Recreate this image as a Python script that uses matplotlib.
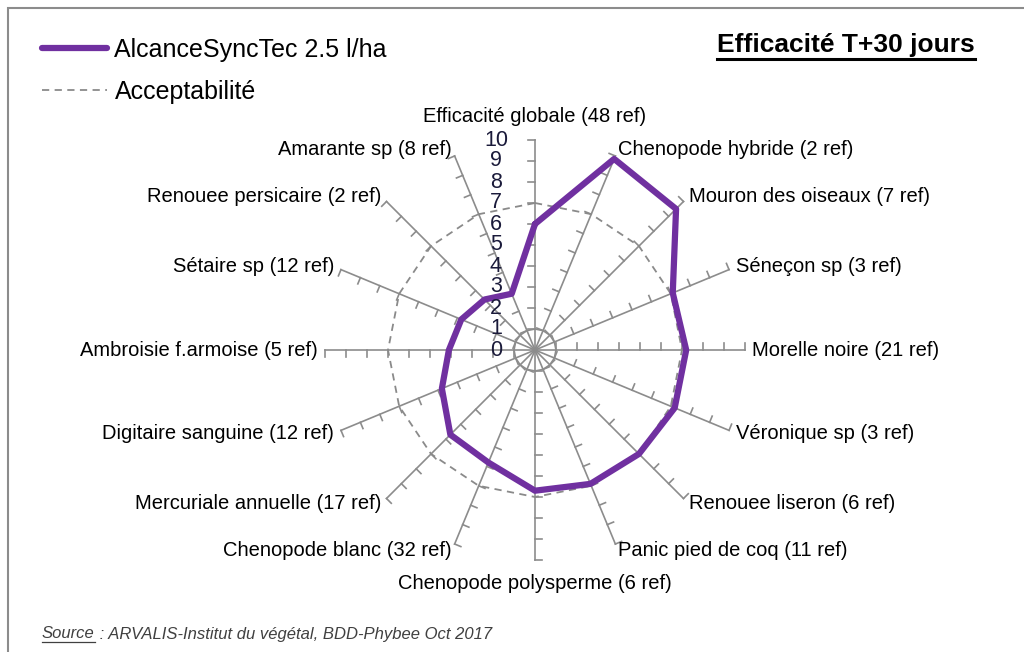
import numpy as np
import matplotlib.pyplot as plt
from matplotlib.lines import Line2D
from matplotlib.patches import Rectangle

plt.rcParams['font.family'] = ['Liberation Sans', 'DejaVu Sans']

# --- data ---
categories = ['Efficacité globale (48 ref)', 'Chenopode hybride (2 ref)',
              'Mouron des oiseaux (7 ref)', 'Séneçon sp (3 ref)',
              'Morelle noire (21 ref)', 'Véronique sp (3 ref)',
              'Renouee liseron (6 ref)', 'Panic pied de coq (11 ref)',
              'Chenopode polysperme (6 ref)', 'Chenopode blanc (32 ref)',
              'Mercuriale annuelle (17 ref)', 'Digitaire sanguine (12 ref)',
              'Ambroisie f.armoise (5 ref)', 'Sétaire sp (12 ref)',
              'Renouee persicaire (2 ref)', 'Amarante sp (8 ref)']
alcance = [6.0, 9.85, 9.5, 7.1, 7.2, 7.2, 7.0, 6.9, 6.7, 5.8, 5.7, 4.8, 4.1, 3.8, 3.4, 2.9]
acceptabilite = [7] * 16
inner_ring = [1] * 16
r_ticks = list(range(0, 11))

series_label = 'AlcanceSyncTec 2.5 l/ha'
accept_label = 'Acceptabilité'
title_txt = 'Efficacité T+30 jours'
source_a = 'Source'
source_b = ' : ARVALIS-Institut du végétal, BDD-Phybee Oct 2017'

purple = '#7030A0'
grey = '#8c8c8c'

W, H = 1024, 652
fig = plt.figure(figsize=(W / 100, H / 100), dpi=100)

# frame (only left/top visible in the crop)
fig.add_artist(Rectangle((8 / W, -0.1), 1.2, 1 - 8 / H + 0.1, transform=fig.transFigure,
                         fill=False, ec=grey, lw=1.5))

# polar axes, centre at (535, 350) px, radius 210 px for r = 10
cx, cy, R = 535, 350, 210
ax = fig.add_axes([(cx - R) / W, 1 - (cy + R) / H, 2 * R / W, 2 * R / H], projection='polar')
ax.set_theta_zero_location('N')
ax.set_theta_direction(-1)
ax.set_ylim(0, 10)
ax.axis('off')

n = len(categories)
theta = np.arange(n) * 2 * np.pi / n

# spokes with small ticks
tick_len = 0.32
for th in theta:
    ax.plot([th, th], [0, 10], color=grey, lw=1.2, clip_on=False, zorder=1)
    for k in r_ticks[1:]:
        ax.plot([th, th - np.arctan(tick_len / k)], [k, np.hypot(k, tick_len)],
                color=grey, lw=1.2, clip_on=False, zorder=1)

th_closed = np.append(theta, theta[0])
ax.plot(th_closed, inner_ring + inner_ring[:1], color=grey, lw=1.2, zorder=1)
acc_line, = ax.plot(th_closed, acceptabilite + acceptabilite[:1], color='#8a8a8a', lw=1.3,
                    linestyle=(0, (4, 3)), zorder=2)
alc_line, = ax.plot(th_closed, alcance + alcance[:1], color=purple, lw=4.5,
                    solid_joinstyle='round', solid_capstyle='round', zorder=3)

# radial value labels along the top spoke
for k in r_ticks:
    ax.annotate(str(k), xy=(0, k), xytext=(-39, 0), textcoords='offset pixels',
                ha='center', va='center', fontsize=15.5, color='#1a1a3a', annotation_clip=False)

# category labels
for th, lab in zip(theta, categories):
    s = np.sin(th)
    if abs(s) < 0.01:
        ax.text(th, 11.1, lab, ha='center', va='center', fontsize=14.5, clip_on=False)
    elif s > 0:
        ax.text(th, 10.35, lab, ha='left', va='center', fontsize=14.5, clip_on=False)
    else:
        ax.text(th, 10.35, lab, ha='right', va='center', fontsize=14.5, clip_on=False)

# legend
fig.legend([alc_line, acc_line], [series_label, accept_label], loc='upper left',
           bbox_to_anchor=(42 / W, 1 - 38 / H), frameon=False, fontsize=18,
           handlelength=2.6, handletextpad=0.3, labelspacing=0.72, borderpad=0,
           borderaxespad=0)

# title
t = fig.text(975 / W, 1 - 45 / H, title_txt, ha='right', va='center', fontsize=19,
             fontweight='bold')

# source
s1 = fig.text(42 / W, 1 - 634 / H, source_a, ha='left', va='center', fontsize=12,
              style='italic', color='#404040')
s2 = fig.text(0, 0, source_b, ha='left', va='center', fontsize=12, style='italic',
              color='#404040')

fig.canvas.draw()
r = fig.canvas.get_renderer()


def underline(txt, lw, color, off=3):
    bb = txt.get_window_extent(renderer=r)
    y = bb.y0 - off
    fig.add_artist(Line2D([bb.x0 / W, bb.x1 / W], [y / H, y / H], transform=fig.transFigure,
                          color=color, lw=lw))


bb1 = s1.get_window_extent(renderer=r)
s2.set_position((bb1.x1 / W, 1 - 634 / H))
underline(t, 2.2, 'black', 2)
underline(s1, 0.9, '#404040', 0)

fig.savefig('out.png', dpi=100)
